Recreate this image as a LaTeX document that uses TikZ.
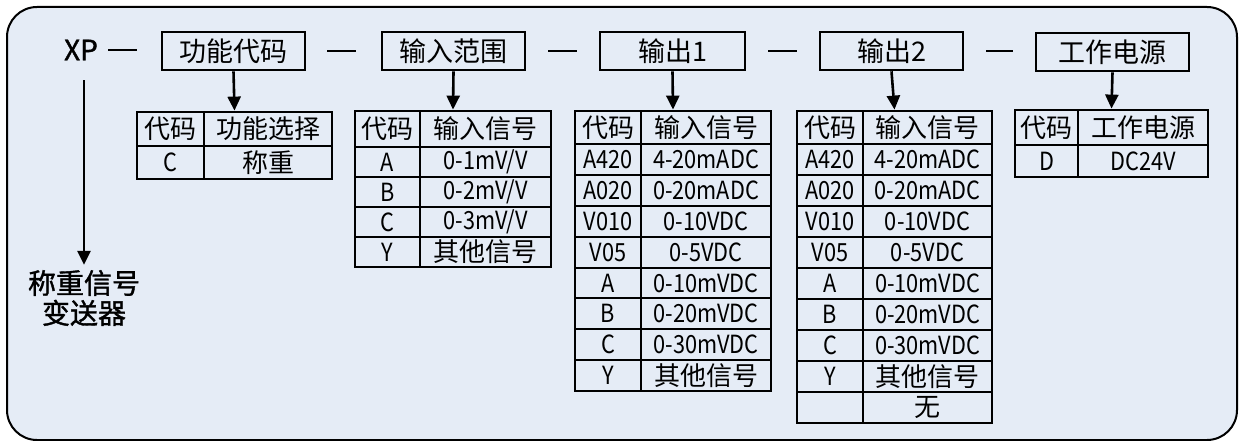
\documentclass[tikz,border=0pt]{standalone}
\usepackage{fontspec}
\setmainfont{Noto Sans CJK SC}
\newfontfamily\medfont{Noto Sans CJK SC}[FakeBold=1.3]
\newfontfamily\latfont{Noto Sans CJK SC}[FakeStretch=0.87]
\newcommand\cj[1]{{\normalfont\fontsize{26}{28}\selectfont #1}}
\usetikzlibrary{arrows.meta,fit}
\definecolor{bgblue}{RGB}{229,236,246}
\def\SL{/}
\tikzset{
  hdrbox/.style={draw, line width=2.6pt, minimum width=143pt, minimum height=38pt, inner sep=0pt, font=\fontsize{27}{30}\selectfont},
  tblframe/.style={draw, line width=2.8pt, inner sep=0pt},
  tblline/.style={line width=2pt},
  cell/.style={inner sep=0pt, font=\fontsize{26}{28}\selectfont},
  latcell/.style={inner sep=0pt, font=\fontsize{25}{28}\latfont},
  arr/.style={line width=2.6pt, -{Triangle[width=13pt,length=14pt]}},
  dashline/.style={line width=2.8pt},
  biglabel/.style={inner sep=0pt, font=\fontsize{28}{30}\medfont},
}
\newcommand\mktable[9]{%
  \node[tblframe, fit={(#2,#5) (#4,#7)}] (#1) {};
  \draw[tblline] (#3,#5) -- (#3,#7);
  \draw[tblline] (#2,#6) -- (#4,#6);
  \foreach \ca/\cb [count=\i] in {#9}{%
    \ifnum\i=1
      \node[cell] (#1-\i-a) at ({(#2+#3)/2},{(#5+#6)/2}) {\ca};
      \node[cell] (#1-\i-b) at ({(#3+#4)/2},{(#5+#6)/2}) {\cb};
    \else
      \pgfmathsetmacro\yt{#6+(\i-2)*#8}
      \pgfmathsetmacro\yb{#6+(\i-1)*#8}
      \node[latcell] (#1-\i-a) at ({(#2+#3)/2},{(\yt+\yb)/2}) {\ca};
      \node[latcell] (#1-\i-b) at ({(#3+#4)/2},{(\yt+\yb)/2}) {\cb};
      \ifnum\i>2 \draw[tblline] (#2,\yt) -- (#4,\yt); \fi
    \fi}%
}
\begin{document}
\begin{tikzpicture}[x=1pt,y=-1pt]
\useasboundingbox (0,0) rectangle (1240,441);
\draw[line width=2pt, fill=bgblue, rounded corners=30pt] (7,7) rectangle (1237,440);

\node[biglabel] (xp) at (81,50) {XP};
\node[hdrbox] (b1) at (233.5,51) {功能代码};
\node[hdrbox] (b2) at (453.5,51) {输入范围};
\node[hdrbox, minimum width=145pt] (b3) at (672.5,51) {输出1};
\node[hdrbox] (b4) at (891.5,51) {输出2};
\node[hdrbox, minimum width=153pt] (b5) at (1112.5,52) {工作电源};

\draw[dashline, shorten <=10pt, shorten >=24pt] (xp) -- (xp -| b1.west);
\draw[dashline, shorten <=21pt, shorten >=25pt] (b1) -- (b2);
\draw[dashline, shorten <=22pt, shorten >=22pt] (b2) -- (b3);
\draw[dashline, shorten <=22pt, shorten >=22pt] (b3) -- (b4);
\draw[dashline, shorten <=22pt, shorten >=22pt] (b4) -- (b4 -| b5.west);

\node[biglabel, align=center] (lbl) at (84,298) {称重信号\\变送器};
\draw[arr, shorten <=20pt, shorten >=5pt] (xp.south -| lbl.north) -- (lbl.north);

\mktable{t1}{137}{204}{332}{112}{146}{179}{33}{代码/功能选择, C/\cj{称重}}
\mktable{t2}{355}{420}{551}{111}{147}{267}{30}{代码/输入信号, A/0-1mV\SL V, B/0-2mV\SL V, C/0-3mV\SL V, Y/\cj{其他信号}}
\mktable{t3}{575}{641}{771}{111}{144}{391}{30.875}{代码/输入信号, A420/4-20mADC, A020/0-20mADC, V010/0-10VDC, V05/0-5VDC, A/0-10mVDC, B/0-20mVDC, C/0-30mVDC, Y/\cj{其他信号}}
\mktable{t4}{797}{863}{992}{111}{144}{423}{31}{代码/输入信号, A420/4-20mADC, A020/0-20mADC, V010/0-10VDC, V05/0-5VDC, A/0-10mVDC, B/0-20mVDC, C/0-30mVDC, Y/\cj{其他信号}, {}/\cj{无}}
\mktable{t5}{1015}{1078}{1208}{110}{145}{177}{32}{代码/工作电源, D/DC24V}

\draw[arr] (b1.south) -- (t1.north);
\draw[arr] (b2.south) -- (t2.north);
\draw[arr] (b3.south) -- (t3.north);
\draw[arr] (b4.south) -- (t4.north);
\draw[arr] (b5.south) -- (t5.north);
\end{tikzpicture}
\end{document}
